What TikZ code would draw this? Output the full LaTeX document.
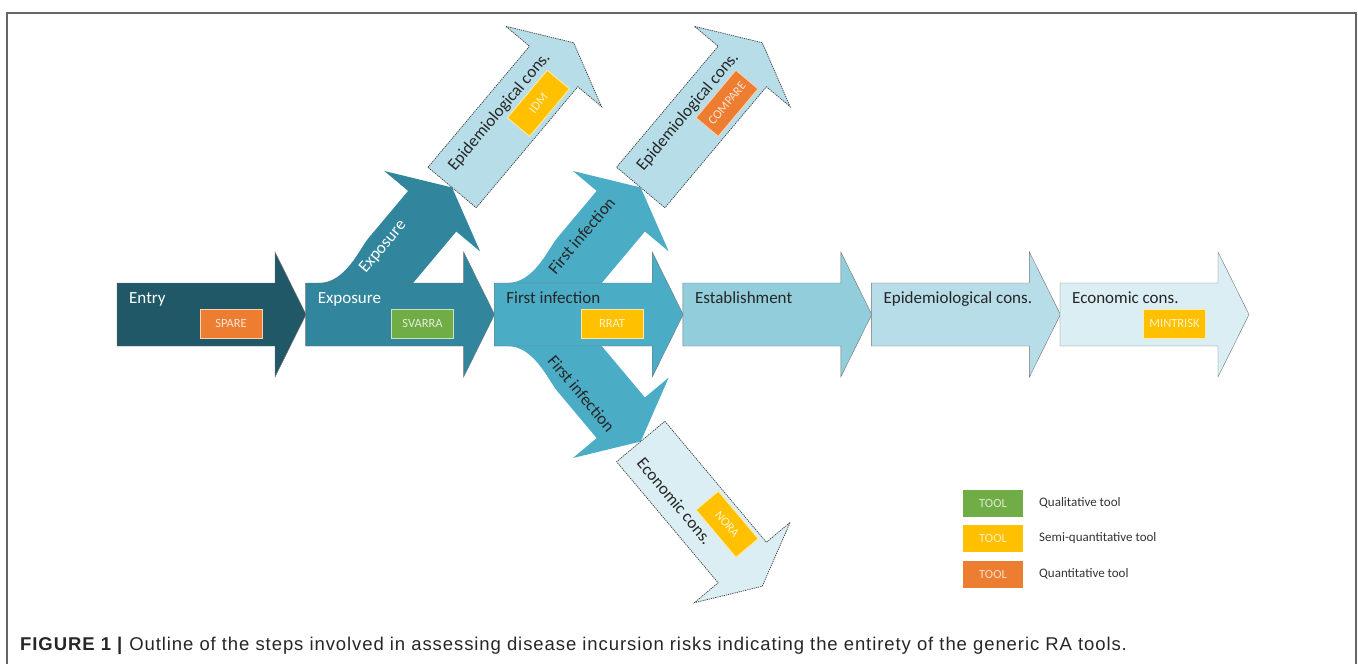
\documentclass[tikz,border=0pt]{standalone}
\usepackage{fontspec}
\usepackage{xcolor}
\usepackage{tikz}
\setmainfont{Carlito}
\newfontfamily\capfont[LetterSpace=5]{Liberation Sans}
\definecolor{entryc}{HTML}{215868}
\definecolor{expoc}{HTML}{31859C}
\definecolor{finfc}{HTML}{4BACC6}
\definecolor{estc}{HTML}{92CDDC}
\definecolor{epic}{HTML}{B7DEE8}
\definecolor{ecoc}{HTML}{DAEEF3}
\definecolor{qualc}{HTML}{70AD47}
\definecolor{semic}{HTML}{FFC000}
\definecolor{quantc}{HTML}{ED7D31}

\begin{document}
\begin{tikzpicture}
      [ x=1pt, y=-1pt
      , steparrow/.pic={\path[pic actions] (0,-31.5) -- (158,-31.5) -- (158,-62.5) -- (189,0) -- (158,62.5) -- (158,31.5) -- (0,31.5) -- cycle;}
      , upbranch/.pic={\path[pic actions] (13,-31.5) .. controls (40,-31.5) and (54,-65.8) .. (63,-76.5) -- (102.5,-123.6) -- (78.7,-143.5) -- (146.5,-127) -- (174.5,-63.1) -- (150.7,-83) -- (107.5,-31.5) -- cycle;}
      , downbranch/.pic={\path[pic actions] (13,31.5) .. controls (40,31.5) and (54,65.8) .. (63,76.5) -- (102.5,123.6) -- (78.7,143.5) -- (146.5,127) -- (174.5,63.1) -- (150.7,83) -- (107.5,31.5) -- cycle;}
      , main/.style={draw=black!55, line width=0.4pt}
      , side/.style={draw=black!75, line width=0.7pt, dash pattern=on 1.3pt off 0.9pt}
      , lbl/.style={anchor=base west, inner sep=0pt, text=black!85, font=\fontsize{17}{20}\selectfont}
      , blbl/.style={anchor=west, inner sep=0pt, text=black!85, font=\fontsize{17}{20}\selectfont}
      , tool/.style={minimum width=62, minimum height=29, inner sep=0pt, fill=#1, draw=white!65!#1, line width=0.9pt, text=white!80!#1, font=\fontsize{12.5}{14}\selectfont}
      , legendbox/.style={minimum width=60, minimum height=27, inner sep=0pt, fill=#1, text=white!75!#1, font=\fontsize{12.5}{14}\selectfont}
      , legendtext/.style={anchor=west, inner sep=0pt, text=black!80, font=\fontsize{13}{15}\selectfont}
      ]
    \useasboundingbox (0,0) rectangle (1358,664);
    \draw[black!60, line width=1.2pt] (7,664) -- (7,13) -- (1356,13) -- (1356,664);

    \pic[fill=expoc] at (305.6,314.5) {upbranch};
    \pic[fill=finfc] at (494.2,314.5) {upbranch};
    \pic[fill=finfc] at (494.2,314.5) {downbranch};

    \pic[fill=entryc, main] at (117,314.5) {steparrow};
    \pic[fill=expoc, main] at (305.6,314.5) {steparrow};
    \pic[fill=finfc, main] at (494.2,314.5) {steparrow};
    \pic[fill=estc, main] at (682.8,314.5) {steparrow};
    \pic[fill=epic, main] at (871.4,314.5) {steparrow};
    \pic[fill=ecoc, main] at (1060,314.5) {steparrow};

    \begin{scope}[shift={(452.1,187.5)}, rotate=50, transform shape]
      \pic[fill=epic, side] {steparrow};
      \node[lbl] (EP1) at (14,-8) {Epidemiological cons.};
      \node[tool=semic] (IDM) at (120,12) {IDM};
    \end{scope}
    \begin{scope}[shift={(640.7,187.5)}, rotate=50, transform shape]
      \pic[fill=epic, side] {steparrow};
      \node[lbl] (EP2) at (14,-8) {Epidemiological cons.};
      \node[tool=quantc] (COMPARE) at (120,12) {COMPARE};
    \end{scope}
    \begin{scope}[shift={(640.7,441.5)}, rotate=-50, transform shape]
      \pic[fill=ecoc, side] {steparrow};
      \node[lbl] (EC2) at (14,18) {Economic cons.};
      \node[tool=semic] (NORA) at (119,-13) {NORA};
    \end{scope}

    \node[lbl, text=white] (EN) at (129,303.5) {Entry};
    \node[lbl, text=white] (EX) at (317.6,303.5) {Exposure};
    \node[lbl] (FI) at (506.2,303.5) {First infection};
    \node[lbl] (ES) at (694.8,303.5) {Establishment};
    \node[lbl] (EP) at (883.4,303.5) {Epidemiological cons.};
    \node[lbl] (EC) at (1072,303.5) {Economic cons.};

    \node[tool=quantc] (SPARE) at (231,323.5) {SPARE};
    \node[tool=qualc] (SVARRA) at (422.5,323.5) {SVARRA};
    \node[tool=semic] (RRAT) at (612,323.5) {RRAT};
    \node[tool=semic] (MINTRISK) at (1174.5,323.5) {MINTRISK};

    \node[blbl, text=white, rotate=50] (BEX) at (362.6,271.5) {Exposure};
    \node[blbl, rotate=50] (BFU) at (551.2,271.5) {First infection};
    \node[blbl, rotate=-50] (BFD) at (551.2,357.5) {First infection};

    \node[legendbox=qualc] (LQL) at (993,503) {TOOL};
    \node[legendbox=semic] (LSQ) at (993,538.5) {TOOL};
    \node[legendbox=quantc] (LQN) at (993,574) {TOOL};
    \node[legendtext] (TQL) at (1039,503) {Qualitative tool};
    \node[legendtext] (TSQ) at (1039,538.5) {Semi-quantitative tool};
    \node[legendtext] (TQN) at (1039,574) {Quantitative tool};

    \node[anchor=base west, inner sep=0pt, text=black!85, font=\capfont\fontsize{18.5}{22}\selectfont] (CAP) at (20,650)
      {\textbf{FIGURE 1 |} Outline of the steps involved in assessing disease incursion risks indicating the entirety of the generic RA tools.};
  \end{tikzpicture}
\end{document}
